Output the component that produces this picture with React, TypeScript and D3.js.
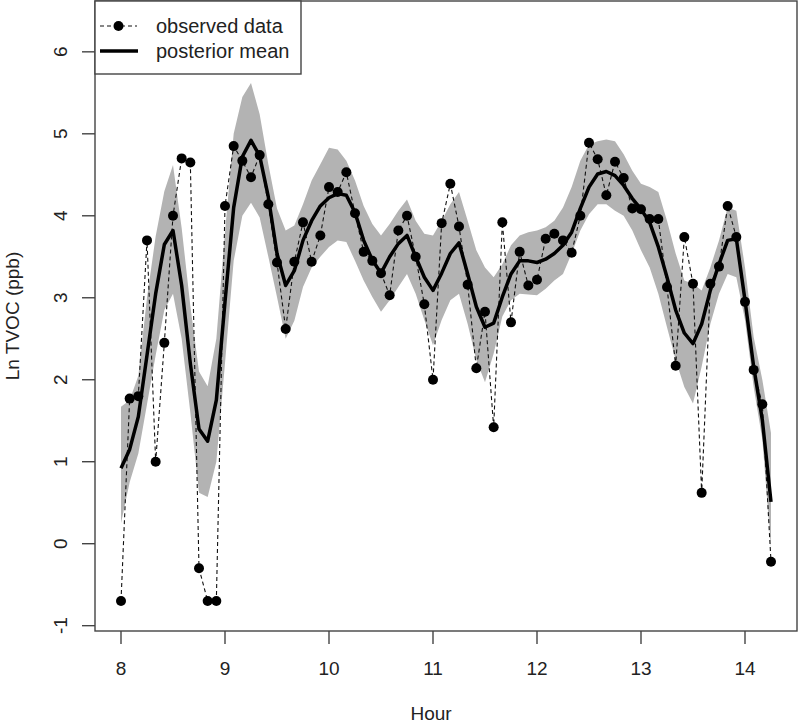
import React, { useEffect, useRef } from 'react';
import * as d3 from 'd3';

// sampling times (5 min steps)
const times = [
  '8:00', '8:05', '8:10', '8:15', '8:20', '8:25', '8:30', '8:35', '8:40', '8:45', '8:50', '8:55',
  '9:00', '9:05', '9:10', '9:15', '9:20', '9:25', '9:30', '9:35', '9:40', '9:45', '9:50', '9:55',
  '10:00', '10:05', '10:10', '10:15', '10:20', '10:25', '10:30', '10:35', '10:40', '10:45', '10:50', '10:55',
  '11:00', '11:05', '11:10', '11:15', '11:20', '11:25', '11:30', '11:35', '11:40', '11:45', '11:50', '11:55',
  '12:00', '12:05', '12:10', '12:15', '12:20', '12:25', '12:30', '12:35', '12:40', '12:45', '12:50', '12:55',
  '13:00', '13:05', '13:10', '13:15', '13:20', '13:25', '13:30', '13:35', '13:40', '13:45', '13:50', '13:55',
  '14:00', '14:05', '14:10', '14:15',
];

const observed = [
  -0.70, 1.77, 1.80, 3.70, 1.00, 2.45, 4.00, 4.70, 4.65, -0.30, -0.70, -0.70,
  4.12, 4.85, 4.67, 4.47, 4.74, 4.14, 3.43, 2.62, 3.44, 3.92, 3.44, 3.76,
  4.35, 4.29, 4.53, 4.03, 3.56, 3.45, 3.30, 3.03, 3.82, 4.00, 3.50, 2.92,
  2.00, 3.91, 4.39, 3.87, 3.16, 2.14, 2.83, 1.42, 3.92, 2.70, 3.56, 3.15,
  3.22, 3.72, 3.78, 3.70, 3.55, 4.00, 4.89, 4.69, 4.25, 4.66, 4.46, 4.09,
  4.08, 3.96, 3.96, 3.13, 2.17, 3.74, 3.17, 0.62, 3.17, 3.38, 4.12, 3.74,
  2.95, 2.12, 1.70, -0.22,
];

const postMean = [
  0.92, 1.15, 1.55, 2.30, 3.05, 3.65, 3.82, 3.15, 2.20, 1.40, 1.25, 1.75,
  2.95, 4.10, 4.72, 4.92, 4.73, 4.23, 3.54, 3.15, 3.33, 3.70, 3.94, 4.12,
  4.22, 4.27, 4.25, 4.04, 3.70, 3.46, 3.30, 3.50, 3.66, 3.76, 3.50, 3.25,
  3.09, 3.30, 3.54, 3.67, 3.29, 2.89, 2.64, 2.69, 3.01, 3.29, 3.45, 3.45,
  3.43, 3.47, 3.54, 3.64, 3.80, 4.09, 4.35, 4.51, 4.54, 4.49, 4.37, 4.21,
  4.08, 3.92, 3.62, 3.25, 2.85, 2.57, 2.44, 2.68, 3.09, 3.41, 3.70, 3.72,
  2.97, 2.16, 1.51, 0.51,
];

const upper = [
  1.67, 1.75, 2.05, 3.00, 3.75, 4.30, 4.62, 3.85, 2.90, 2.10, 1.92, 2.50,
  3.80, 5.00, 5.45, 5.62, 5.24, 4.63, 4.09, 3.82, 3.88, 4.14, 4.43, 4.63,
  4.83, 4.81, 4.67, 4.43, 4.12, 3.90, 3.76, 3.90, 4.06, 4.20, 3.94, 3.78,
  3.76, 3.94, 4.14, 4.29, 3.94, 3.58, 3.37, 3.25, 3.41, 3.64, 3.76, 3.80,
  3.82, 3.86, 3.94, 4.10, 4.35, 4.67, 4.87, 4.91, 4.93, 4.91, 4.75, 4.55,
  4.39, 4.35, 4.29, 3.94, 3.54, 3.21, 3.17, 3.09, 3.37, 3.70, 4.10, 4.06,
  3.37, 2.52, 2.00, 1.35,
];

const lower = [
  0.25, 0.75, 1.10, 1.70, 2.30, 2.85, 3.05, 2.50, 1.60, 0.62, 0.57, 1.00,
  2.20, 3.45, 4.00, 4.16, 3.98, 3.50, 3.01, 2.50, 2.72, 3.13, 3.37, 3.50,
  3.62, 3.70, 3.68, 3.45, 3.21, 3.01, 2.83, 2.97, 3.13, 3.29, 3.05, 2.73,
  2.42, 2.73, 2.97, 3.05, 2.68, 2.24, 1.97, 2.32, 2.77, 2.97, 3.05, 3.04,
  3.03, 3.11, 3.21, 3.29, 3.54, 3.82, 4.02, 4.14, 4.14, 4.06, 4.00, 3.82,
  3.58, 3.37, 3.05, 2.64, 2.24, 1.91, 1.71, 2.16, 2.68, 3.05, 3.29, 3.25,
  2.73, 1.91, 1.27, -0.05,
];

const xTicks = [8, 9, 10, 11, 12, 13, 14];
const yTicks = [-1, 0, 1, 2, 3, 4, 5, 6];
const legendLabels = ['observed data', 'posterior mean'];

const toHour = (t: string) => {
  const [h, m] = t.split(':').map(Number);
  return h + m / 60;
};

const App = () => {
  const svgRef = useRef<SVGSVGElement>(null);

  useEffect(() => {
    const svg = d3.select(svgRef.current);
    svg.selectAll('*').remove();

    const left = 95, right = 797, top = 1, bottom = 631;
    const font = "'Liberation Sans', Arial, sans-serif";
    const axisCol = '#444';

    const x = d3.scaleLinear().domain([7.75, 14.5]).range([left, right]);
    const y = d3.scaleLinear().domain([-1.065, 6.62]).range([bottom, top]);

    const data = times.map((t, i) => ({
      h: toHour(t), obs: observed[i], mean: postMean[i], hi: upper[i], lo: lower[i],
    }));

    // credible band
    const band = d3.area<any>().x(d => x(d.h)).y0(d => y(d.lo)).y1(d => y(d.hi));
    svg.append('path').datum(data).attr('d', band).attr('fill', '#b3b3b3');

    // observed series
    const obsLine = d3.line<any>().x(d => x(d.h)).y(d => y(d.obs));
    svg.append('path').datum(data).attr('d', obsLine)
      .attr('fill', 'none').attr('stroke', '#111').attr('stroke-width', 1.1)
      .attr('stroke-dasharray', '4,3');

    svg.append('g').selectAll('circle').data(data).enter().append('circle')
      .attr('cx', d => x(d.h)).attr('cy', d => y(d.obs)).attr('r', 5).attr('fill', '#000');

    // posterior mean
    const meanLine = d3.line<any>().x(d => x(d.h)).y(d => y(d.mean));
    svg.append('path').datum(data).attr('d', meanLine)
      .attr('fill', 'none').attr('stroke', '#000').attr('stroke-width', 3.5)
      .attr('stroke-linejoin', 'round');

    // frame
    svg.append('rect').attr('x', left).attr('y', top)
      .attr('width', right - left).attr('height', bottom - top)
      .attr('fill', 'none').attr('stroke', axisCol).attr('stroke-width', 1.4);

    // x axis
    const gx = svg.append('g');
    gx.selectAll('line').data(xTicks).enter().append('line')
      .attr('x1', d => x(d)).attr('x2', d => x(d)).attr('y1', bottom).attr('y2', bottom + 13)
      .attr('stroke', axisCol).attr('stroke-width', 1.4);
    gx.selectAll('text').data(xTicks).enter().append('text')
      .attr('x', d => x(d)).attr('y', bottom + 44).attr('text-anchor', 'middle')
      .attr('font-family', font).attr('font-size', 19).attr('fill', '#222')
      .text(d => d);
    svg.append('text').attr('x', (left + right) / 2 - 15).attr('y', 720)
      .attr('text-anchor', 'middle').attr('font-family', font).attr('font-size', 19)
      .attr('fill', '#222').text('Hour');

    // y axis
    const gy = svg.append('g');
    gy.selectAll('line').data(yTicks).enter().append('line')
      .attr('x1', left - 13).attr('x2', left).attr('y1', d => y(d)).attr('y2', d => y(d))
      .attr('stroke', axisCol).attr('stroke-width', 1.4);
    gy.selectAll('text').data(yTicks).enter().append('text')
      .attr('transform', d => `translate(${left - 28},${y(d)}) rotate(-90)`)
      .attr('text-anchor', 'middle').attr('font-family', font).attr('font-size', 19)
      .attr('fill', '#222').text(d => d);
    svg.append('text')
      .attr('transform', `translate(19,${(top + bottom) / 2}) rotate(-90)`)
      .attr('text-anchor', 'middle').attr('font-family', font).attr('font-size', 19)
      .attr('fill', '#222').text('Ln TVOC (ppb)');

    // legend
    const lg = svg.append('g');
    lg.append('rect').attr('x', left).attr('y', top).attr('width', 206).attr('height', 73)
      .attr('fill', '#fff').attr('stroke', axisCol).attr('stroke-width', 1.4);
    lg.append('line').attr('x1', 100).attr('x2', 137).attr('y1', 26).attr('y2', 26)
      .attr('stroke', '#111').attr('stroke-width', 1.1).attr('stroke-dasharray', '4,3');
    lg.append('circle').attr('cx', 118.5).attr('cy', 26).attr('r', 5).attr('fill', '#000');
    lg.append('line').attr('x1', 100).attr('x2', 138).attr('y1', 51).attr('y2', 51)
      .attr('stroke', '#000').attr('stroke-width', 3.5);
    lg.selectAll('text').data(legendLabels).enter().append('text')
      .attr('x', 156).attr('y', (d, i) => 26 + i * 25).attr('dy', '0.35em')
      .attr('font-family', font).attr('font-size', 20).attr('fill', '#222')
      .text(d => d);
  }, []);

  return (
    <svg ref={svgRef} width={800} height={726}
      style={{ position: 'absolute', left: 0, top: 0, background: '#fff' }} />
  );
};

export default App;
